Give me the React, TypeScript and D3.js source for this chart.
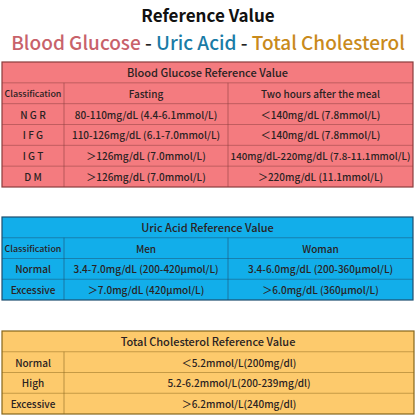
import React, { useRef, useEffect } from "react";
import * as d3 from "d3";

// Blood glucose table
const glucoseTitle = "Blood Glucose Reference Value";
const glucoseHeaders = ["Classification", "Fasting", "Two hours after the meal"];
const glucoseClasses = ["N G R", "I F G", "I G T", "D M"];
const glucoseFasting = [
  "80-110mg/dL (4.4-6.1mmol/L)",
  "110-126mg/dL (6.1-7.0mmol/L)",
  "＞126mg/dL (7.0mmol/L)",
  "＞126mg/dL (7.0mmol/L)",
];
const glucoseAfterMeal = [
  "＜140mg/dL (7.8mmol/L)",
  "＜140mg/dL (7.8mmol/L)",
  "140mg/dL-220mg/dL (7.8-11.1mmol/L)",
  "＞220mg/dL (11.1mmol/L)",
];

// Uric acid table
const uricTitle = "Uric Acid Reference Value";
const uricHeaders = ["Classification", "Men", "Woman"];
const uricClasses = ["Normal", "Excessive"];
const uricMen = ["3.4-7.0mg/dL (200-420μmol/L)", "＞7.0mg/dL (420μmol/L)"];
const uricWoman = ["3.4-6.0mg/dL (200-360μmol/L)", "＞6.0mg/dL (360μmol/L)"];

// Total cholesterol table
const cholTitle = "Total Cholesterol Reference Value";
const cholClasses = ["Normal", "High", "Excessive"];
const cholValues = [
  "＜5.2mmol/L(200mg/dl)",
  "5.2-6.2mmol/L(200-239mg/dl)",
  "＞6.2mmol/L(240mg/dl)",
];

type TableSpec = {
  title: string;
  header: string[] | null;
  columns: string[][];
  top: number;
  bottom: number;
  colEdges: number[];
  fill: string;
  stroke: string;
};

const App: React.FC = () => {
  const ref = useRef<SVGSVGElement | null>(null);

  useEffect(() => {
    if (!ref.current) return;
    const svg = d3.select(ref.current);
    svg.selectAll("*").remove();

    const width = 416;
    const font = "'Noto Sans CJK SC', 'Noto Sans', sans-serif";

    // Titles
    svg
      .append("text")
      .attr("x", width / 2)
      .attr("y", 22)
      .attr("text-anchor", "middle")
      .style("font-family", font)
      .style("font-size", "17px")
      .style("font-weight", "bold")
      .style("fill", "#111")
      .text("Reference Value");

    const sub = svg
      .append("text")
      .attr("x", width / 2)
      .attr("y", 50)
      .attr("text-anchor", "middle")
      .style("font-family", font)
      .style("font-size", "19px")
      .style("font-weight", "500");
    const parts = [
      { t: "Blood Glucose", c: "#c8626a" },
      { t: " - ", c: "#222" },
      { t: "Uric Acid", c: "#1a7ba6" },
      { t: " - ", c: "#222" },
      { t: "Total Cholesterol", c: "#c98a1c" },
    ];
    parts.forEach((p) => sub.append("tspan").style("fill", p.c).text(p.t));

    const tables: TableSpec[] = [
      {
        title: glucoseTitle,
        header: glucoseHeaders,
        columns: [glucoseClasses, glucoseFasting, glucoseAfterMeal],
        top: 62,
        bottom: 187,
        colEdges: [2, 64, 228, 413],
        fill: "#f47b7f",
        stroke: "#8a3d3d",
      },
      {
        title: uricTitle,
        header: uricHeaders,
        columns: [uricClasses, uricMen, uricWoman],
        top: 217,
        bottom: 300,
        colEdges: [2, 64, 228, 413],
        fill: "#12aeea",
        stroke: "#1d4d6e",
      },
      {
        title: cholTitle,
        header: null,
        columns: [cholClasses, cholValues],
        top: 331,
        bottom: 414,
        colEdges: [2, 64, 414],
        fill: "#fdca6c",
        stroke: "#86661c",
      },
    ];

    tables.forEach((tb) => {
      const nData = tb.columns[0].length;
      const rowIds = ["title", ...(tb.header ? ["header"] : []), ...d3.range(nData).map(String)];
      const y = d3.scaleBand<string>().domain(rowIds).range([tb.top, tb.bottom]);
      const left = tb.colEdges[0];
      const right = tb.colEdges[tb.colEdges.length - 1];
      const g = svg.append("g");

      g.append("rect")
        .attr("x", left)
        .attr("y", tb.top)
        .attr("width", right - left)
        .attr("height", tb.bottom - tb.top)
        .attr("fill", tb.fill)
        .attr("stroke", tb.stroke)
        .attr("stroke-width", 1.2);

      // Horizontal row lines
      g.selectAll(".hline")
        .data(rowIds.slice(1))
        .enter()
        .append("line")
        .attr("x1", left)
        .attr("x2", right)
        .attr("y1", (d) => y(d)!)
        .attr("y2", (d) => y(d)!)
        .attr("stroke", tb.stroke)
        .attr("stroke-opacity", 0.6)
        .attr("stroke-width", 0.8);

      // Vertical column lines (below the title row)
      g.selectAll(".vline")
        .data(tb.colEdges.slice(1, -1))
        .enter()
        .append("line")
        .attr("x1", (d) => d)
        .attr("x2", (d) => d)
        .attr("y1", y(rowIds[1])!)
        .attr("y2", tb.bottom)
        .attr("stroke", tb.stroke)
        .attr("stroke-opacity", 0.7)
        .attr("stroke-width", 0.8);

      // Centered cell text, shrunk a bit if it would touch the cell borders
      const cellText = (text: string, x0: number, x1: number, row: string, size: number) => {
        const t = g
          .append("text")
          .attr("x", (x0 + x1) / 2)
          .attr("y", y(row)! + y.bandwidth() / 2)
          .attr("text-anchor", "middle")
          .attr("dominant-baseline", "central")
          .style("font-family", font)
          .style("font-size", `${size}px`)
          .style("font-weight", "500")
          .style("fill", "#2a2222")
          .text(text);
        const avail = x1 - x0 - 5;
        const w = (t.node() as SVGTextElement).getComputedTextLength();
        if (w > avail) t.style("font-size", `${(size * avail) / w}px`);
      };

      cellText(tb.title, left, right, "title", 11);

      if (tb.header) {
        tb.header.forEach((h, ci) =>
          cellText(h, tb.colEdges[ci], tb.colEdges[ci + 1], "header", 10)
        );
      }

      tb.columns.forEach((col, ci) => {
        col.forEach((v, ri) =>
          cellText(v, tb.colEdges[ci], tb.colEdges[ci + 1], String(ri), 10)
        );
      });
    });
  }, []);

  return (
    <div style={{ position: "fixed", left: 0, top: 0, width: 416, height: 416, background: "#fff" }}>
      <svg ref={ref} width={416} height={416} style={{ display: "block" }} />
    </div>
  );
};

export default App;
